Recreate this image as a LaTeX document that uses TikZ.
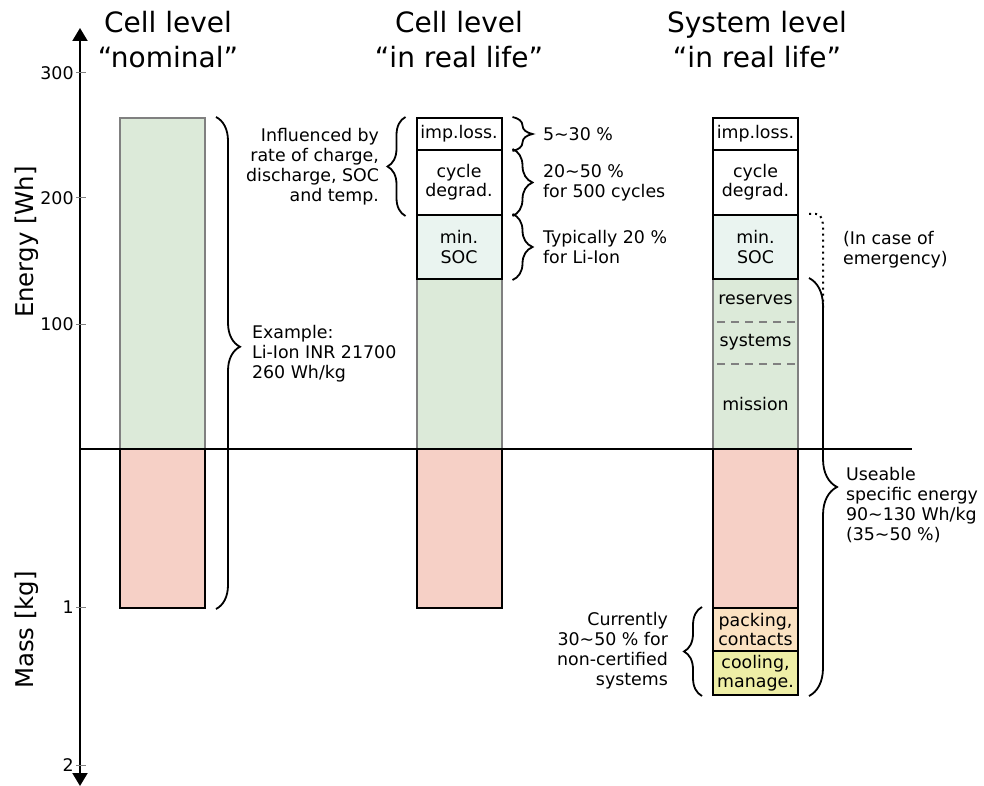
\documentclass[tikz,border=0pt]{standalone}
\usepackage{fontspec}
\setmainfont{DejaVu Sans}
\usepackage{tikz}
\usetikzlibrary{arrows.meta,calc,decorations.pathreplacing,positioning}
\definecolor{cellgreen}{RGB}{220,234,217}
\definecolor{cellred}{RGB}{246,208,198}
\definecolor{socblue}{RGB}{234,244,240}
\definecolor{packorange}{RGB}{251,226,194}
\definecolor{coolyellow}{RGB}{238,238,166}
\newcommand{\txtfont}{\fontsize{8.7pt}{10pt}\selectfont}
\newcommand{\segfont}{\fontsize{8.7pt}{9.6pt}\selectfont}
\newcommand{\ttlfont}{\fontsize{14pt}{17.5pt}\selectfont}
\newcommand{\axfont}{\fontsize{12.2pt}{14pt}\selectfont}
\tikzset{
  seg/.style={draw,line width=1pt,fill=white,minimum width=42.5pt,inner sep=0pt,align=center,font=\segfont},
  nrg/.style={seg,draw=gray,fill=cellgreen},
  mas/.style={seg,fill=cellred},
  brc/.style={decorate,decoration={brace,amplitude=#1},line width=.9pt},
  brc/.default=10pt,
  ttl/.style={align=center,font=\ttlfont},
  sep/.style={gray,line width=.6pt,dash pattern=on 4pt off 3pt}
}

\begin{document}
\begin{tikzpicture}[x=.5pt,y=-.5pt,font=\txtfont]
  \useasboundingbox (0,0) rectangle (984,786);
  % axis
  \draw[line width=1pt,{Triangle[width=7.5pt,length=6.5pt]}-{Triangle[width=7.5pt,length=6.5pt]}] (80,786)--(80,28);
  \foreach \y/\lab in {73/300,198/200,324/100,607/1,765/2}{
    \draw[gray,line width=.5pt] (76,\y)--(86,\y);
    \node[left,inner sep=1pt] (tick\lab) at (76,\y) {\lab};}
  \node[rotate=90,font=\axfont] (elab) at (27,242) {Energy [Wh]};
  \node[rotate=90,font=\axfont] (mlab) at (27,630) {Mass [kg]};

  % titles
  \node[ttl] (ttl1) at (168,40) {Cell level\\“nominal”};
  \node[ttl] (ttl2) at (459,40) {Cell level\\“in real life”};
  \node[ttl] (ttl3) at (757,40) {System level\\“in real life”};

  % cell nominal
  \node[nrg,minimum height=165.5pt] (nom1) at (162.5,283.5) {};
  \node[mas,minimum height=79.5pt] (mass1) at (162.5,528.5) {};

  % cell real life
  \node[nrg,minimum height=85pt] (use2) at (459,364) {};
  \node[mas,minimum height=79.5pt] (mass2) at (459,528.5) {};
  \node[seg,minimum height=16pt] (imp2) at (459,134) {imp.loss.};
  \node[seg,minimum height=32.5pt] (cyc2) at (459,182.5) {cycle\\degrad.};
  \node[seg,fill=socblue,minimum height=32pt] (soc2) at (459,247) {min.\\SOC};

  % system real life
  \node[nrg,minimum height=85pt] (use3) at (755.5,364) {};
  \node[mas,minimum height=79.5pt] (mass3) at (755.5,528.5) {};
  \node[seg,minimum height=16pt] (imp3) at (755.5,134) {imp.loss.};
  \node[seg,minimum height=32.5pt] (cyc3) at (755.5,182.5) {cycle\\degrad.};
  \node[seg,fill=socblue,minimum height=32pt] (soc3) at (755.5,247) {min.\\SOC};
  \node[seg,fill=packorange,minimum height=21.5pt] (pack3) at (755.5,629.5) {packing,\\contacts};
  \node[seg,fill=coolyellow,minimum height=22pt] (cool3) at (755.5,673) {cooling,\\manage.};
  \draw[sep] (717,322)--(795,322);
  \draw[sep] (717,364)--(795,364);
  \node (res3) at (755.5,300) {reserves};
  \node (sys3) at (755.5,342) {systems};
  \node (mis3) at (755.5,404) {mission};

  % zero line
  \draw[line width=1.3pt] (80,449)--(912,449);

  % braces
  \draw[brc=12pt,decoration={aspect=.467}] ([xshift=5pt]nom1.north east)--([xshift=5pt]mass1.south east);
  \node[anchor=west,align=left] (ex1) at (245,354) {Example:\\Li-Ion INR 21700\\260 Wh/kg};

  \draw[brc] ([xshift=5pt]imp2.north east)--([xshift=5pt]imp2.south east);
  \draw[brc] ([xshift=5pt]cyc2.north east)--([xshift=5pt]cyc2.south east);
  \draw[brc] ([xshift=5pt]soc2.north east)--([xshift=5pt]soc2.south east);
  \node[anchor=west] (pimp) at (536,134) {5\textasciitilde30 \%};
  \node[anchor=west,align=left] (pcyc) at (536,182.5) {20\textasciitilde50 \%\\for 500 cycles};
  \node[anchor=west,align=left] (psoc) at (536,247) {Typically 20 \%\\for Li-Ion};
  \draw[brc=9pt] ([xshift=-5pt]cyc2.south west)--([xshift=-5pt]imp2.north west);
  \node[anchor=east,align=right] (infl) at (386,166.5) {Influenced by\\rate of charge,\\discharge, SOC\\and temp.};

  \coordinate (emg) at ([xshift=5pt]soc3.north east);
  \draw[dotted,line width=1pt] (emg)--++(7,0) to[out=0,in=90] ++(7,14)--++(0,80);
  \node[anchor=west,align=left] (pemg) at (836,250) {(In case of\\emergency)};
  \draw[brc=14pt] ([xshift=5pt]use3.north east)--([xshift=5pt]cool3.south east);
  \node[anchor=west,align=left] (puse) at (839,505) {Useable\\specific energy\\90\textasciitilde130 Wh/kg\\(35\textasciitilde50 \%)};
  \draw[brc=9pt] ([xshift=-5pt]cool3.south west)--([xshift=-5pt]pack3.north west);
  \node[anchor=east,align=right] (ppack) at (675,651) {Currently\\30\textasciitilde50 \% for\\non-certified\\systems};
\end{tikzpicture}
\end{document}
